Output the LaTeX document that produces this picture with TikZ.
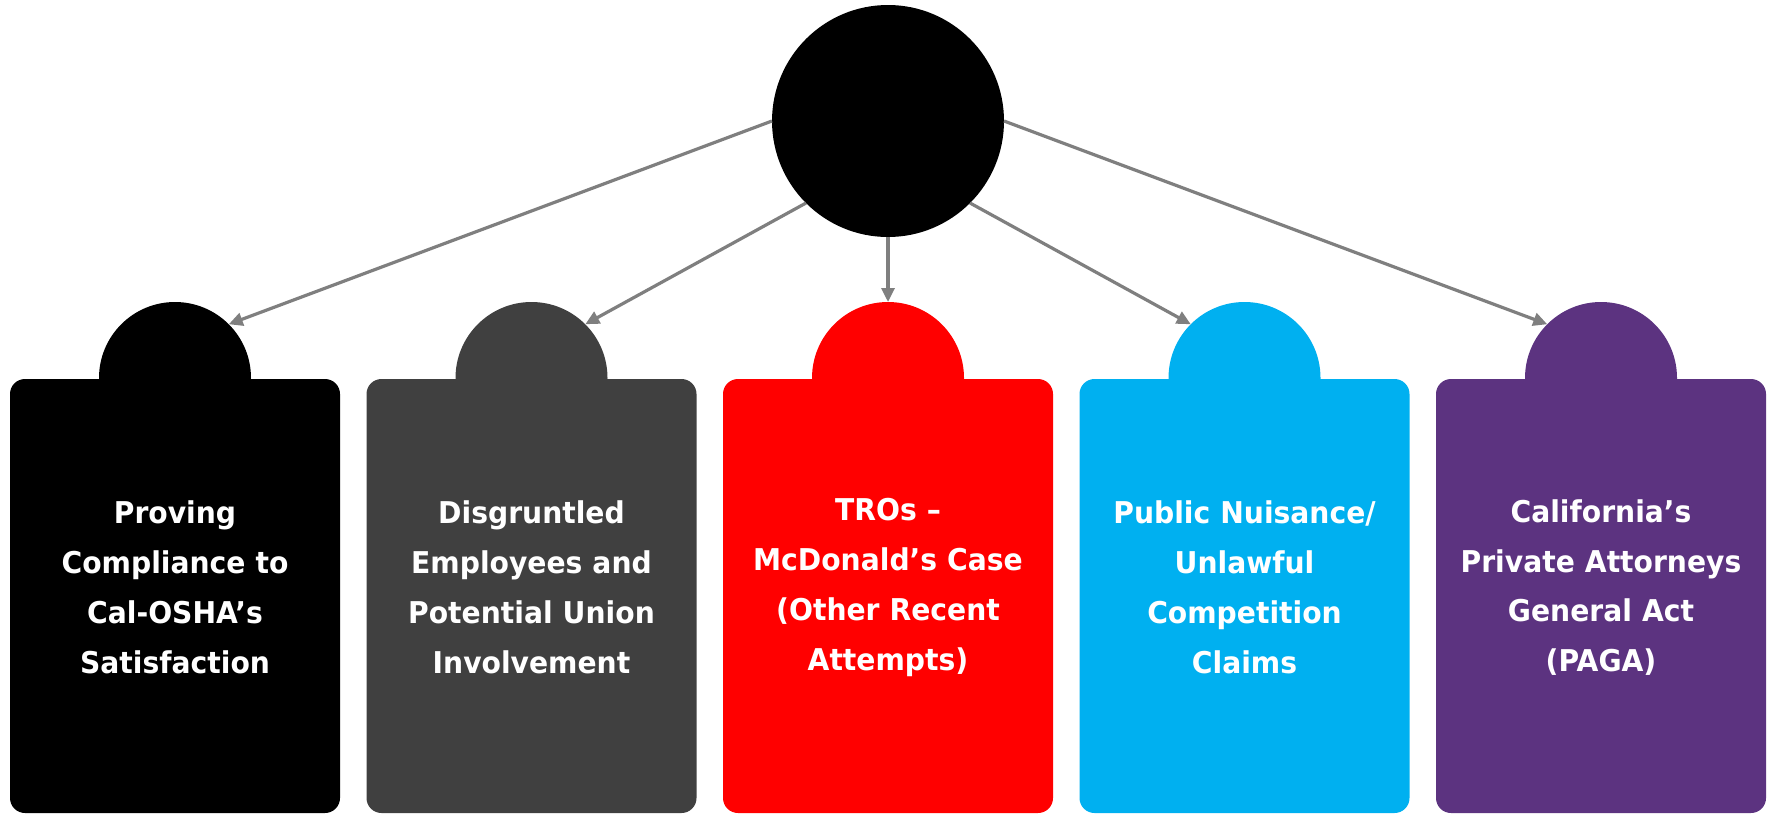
\documentclass[tikz,border=0pt]{standalone}
\usepackage{fontspec}
\newfontfamily\boxfont{DejaVu Sans}[FakeStretch=0.94]
\usetikzlibrary{arrows.meta}
\definecolor{cgray}{HTML}{404040}
\definecolor{cred}{HTML}{FF0000}
\definecolor{ccyan}{HTML}{00B0F0}
\definecolor{cpurple}{HTML}{5C3380}
\definecolor{carrow}{HTML}{7F7F7F}
\tikzset{
  hub/.style={circle, fill=black, minimum size=232pt, inner sep=0pt, outer sep=0pt},
  head/.style={circle, fill=#1, minimum size=152pt, inner sep=0pt, outer sep=0pt},
  card/.style={rectangle, rounded corners=15pt, fill=#1, minimum width=330pt, minimum height=434pt, inner sep=0pt, outer sep=0pt},
  cardtext/.style={text=white, align=center, text width=330pt, inner sep=0pt, font=\boxfont\bfseries\fontsize{30}{49.8}\selectfont},
  link/.style={draw=carrow, line width=3.2pt, -{Triangle[length=14pt,width=13pt]}}
}
\begin{document}
\begin{tikzpicture}[x=1pt,y=-1pt]
\useasboundingbox (0,0) rectangle (1771,814);
\node[hub] (top) at (888,121) {};
% heads
\node[head=black] (h1) at (175,378) {};
\node[head=cgray] (h2) at (531.5,378) {};
\node[head=cred] (h3) at (888,378) {};
\node[head=ccyan] (h4) at (1244.5,378) {};
\node[head=cpurple] (h5) at (1601,378) {};
% cards
\node[card=black] (b1) at (175,596) {};
\node[card=cgray] (b2) at (531.5,596) {};
\node[card=cred] (b3) at (888,596) {};
\node[card=ccyan] (b4) at (1244.5,596) {};
\node[card=cpurple] (b5) at (1601,596) {};
% texts
\node[cardtext] (t1) at (175,587.5) {Proving\\Compliance to\\Cal-OSHA’s\\Satisfaction};
\node[cardtext] (t2) at (531.5,587.5) {Disgruntled\\Employees and\\Potential Union\\Involvement};
\node[cardtext] (t3) at (888,587.5) {TROs –\\McDonald’s Case\\(Other Recent\\Attempts)};
\node[cardtext] (t4) at (1244.5,587.5) {Public Nuisance/\\Unlawful\\Competition\\Claims};
\node[cardtext] (t5) at (1601,587.5) {California’s\\Private Attorneys\\General Act\\(PAGA)};
% connectors
\draw[link] (top.180) -- (h1.45);
\draw[link] (top.225) -- (h2.45);
\draw[link] (top.270) -- (h3.90);
\draw[link] (top.315) -- (h4.135);
\draw[link] (top.0) -- (h5.135);
\end{tikzpicture}
\end{document}
